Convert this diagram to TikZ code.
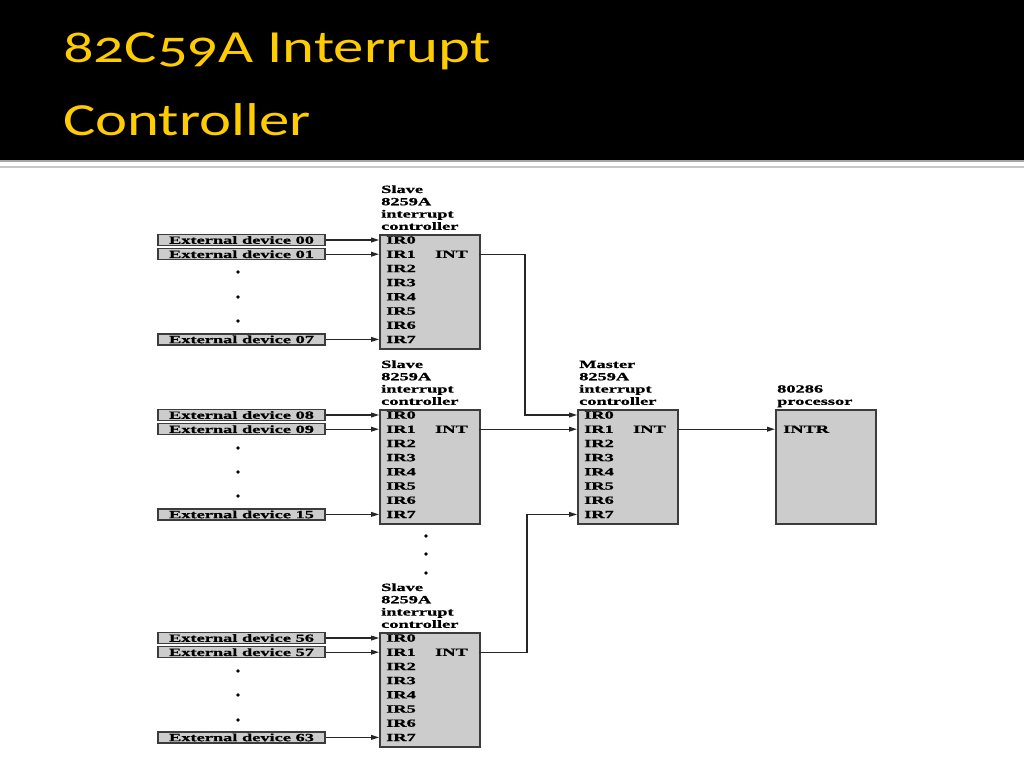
\documentclass[tikz,border=0pt]{standalone}
\usepackage{fontspec}
\usetikzlibrary{arrows.meta}
\newfontfamily\titlefont{Carlito}[Numbers=OldStyle,FakeStretch=1.32]
\newfontfamily\diagfont{Liberation Serif}[FakeStretch=1.67,FakeBold=0.8]
\newcommand\dtext{\diagfont\bfseries\fontsize{11}{12.3}\selectfont}
\definecolor{titleyellow}{RGB}{255,204,0}
\definecolor{boxgray}{RGB}{204,204,204}
\definecolor{edgegray}{RGB}{60,60,60}
\tikzset{
  ctrl/.style={draw=edgegray, line width=1.6pt, fill=boxgray, minimum width=100pt, minimum height=114pt, inner sep=0pt},
  ext/.style={draw=edgegray, line width=1.5pt, fill=boxgray, minimum width=167pt, minimum height=11pt, inner sep=0pt, font=\dtext},
  irl/.style={anchor=west, inner xsep=7pt, inner ysep=0pt, font=\dtext},
  intl/.style={anchor=east, inner xsep=11pt, inner ysep=0pt, font=\dtext},
  lbl/.style={anchor=south west, inner sep=0pt, align=left, font=\dtext},
  arr/.style={-{Triangle[length=8pt,width=4.8pt]}, line width=1.2pt, draw=black!85},
  dotn/.style={circle, fill=black, inner sep=0pt, minimum size=3.6pt},
  ttl/.style={anchor=base west, inner sep=0pt, text=titleyellow, font=\titlefont\fontsize{46}{50}\selectfont}
}
\newcommand\mkctrl[4]{%
  \node[ctrl, anchor=north west] (#1) at (#2,#3) {};
  \node[lbl] (#1lab) at (#2+2,#3-1.6) {#4\vphantom{p}};
  \foreach \i in {0,...,7}{\node[irl] (#1ir\i) at (#2,#3+6+14.2*\i) {IR\i};}
  \node[intl] (#1int) at (#2+100,#3+20.2) {INT};
}
\begin{document}
\begin{tikzpicture}[x=1pt,y=-1pt]
\useasboundingbox (0,0) rectangle (1024,768);
\fill[white] (0,0) rectangle (1024,768);
% title band
\fill[black] (0,0) rectangle (1024,160);
\fill[gray!70] (0,160) rectangle (1024,161.8);
\fill[gray!45] (0,165.8) rectangle (1024,167.6);
\node[ttl] (t1) at (63,63) {82C59A Interrupt};
\node[ttl] (t2) at (63,135) {Controller};
% controllers
\mkctrl{sa}{379}{234}{Slave\\8259A\\interrupt\\controller}
\mkctrl{sb}{379}{409}{Slave\\8259A\\interrupt\\controller}
\mkctrl{sc}{379}{632}{Slave\\8259A\\interrupt\\controller}
\mkctrl{m}{577}{409}{Master\\8259A\\interrupt\\controller}
% processor
\node[ctrl, anchor=north west] (cpu) at (775,409) {};
\node[lbl] (cpulab) at (777,407.4) {80286\\processor};
\node[irl, inner xsep=8pt] (intr) at (775,429.2) {INTR};
% external devices
\node[ext] (e00) at ([xshift=-137.5pt]sair0.west) {External device 00};
\node[ext] (e01) at ([xshift=-137.5pt]sair1.west) {External device 01};
\node[ext] (e07) at ([xshift=-137.5pt]sair7.west) {External device 07};
\node[ext] (e08) at ([xshift=-137.5pt]sbir0.west) {External device 08};
\node[ext] (e09) at ([xshift=-137.5pt]sbir1.west) {External device 09};
\node[ext] (e15) at ([xshift=-137.5pt]sbir7.west) {External device 15};
\node[ext] (e56) at ([xshift=-137.5pt]scir0.west) {External device 56};
\node[ext] (e57) at ([xshift=-137.5pt]scir1.west) {External device 57};
\node[ext] (e63) at ([xshift=-137.5pt]scir7.west) {External device 63};
\draw[arr] (e00.east) -- (sair0.west);
\draw[arr] (e01.east) -- (sair1.west);
\draw[arr] (e07.east) -- (sair7.west);
\draw[arr] (e08.east) -- (sbir0.west);
\draw[arr] (e09.east) -- (sbir1.west);
\draw[arr] (e15.east) -- (sbir7.west);
\draw[arr] (e56.east) -- (scir0.west);
\draw[arr] (e57.east) -- (scir1.west);
\draw[arr] (e63.east) -- (scir7.west);
% dots
\foreach \y [count=\k] in {272,297,321} \node[dotn] (da\k) at (238,\y) {};
\foreach \y [count=\k] in {448,472,496} \node[dotn] (db\k) at (238,\y) {};
\foreach \y [count=\k] in {671,695,720} \node[dotn] (dc\k) at (238,\y) {};
\foreach \y [count=\k] in {536,554,573} \node[dotn] (dm\k) at (426,\y) {};
% INT wires
\draw[arr] (saint.east) -- ++(46,0) |- (mir0.west);
\draw[arr] (sbint.east) -- (mir1.west);
\draw[arr] (scint.east) -- ++(48,0) |- (mir7.west);
\draw[arr] (mint.east) -- (intr.west);
\end{tikzpicture}
\end{document}
